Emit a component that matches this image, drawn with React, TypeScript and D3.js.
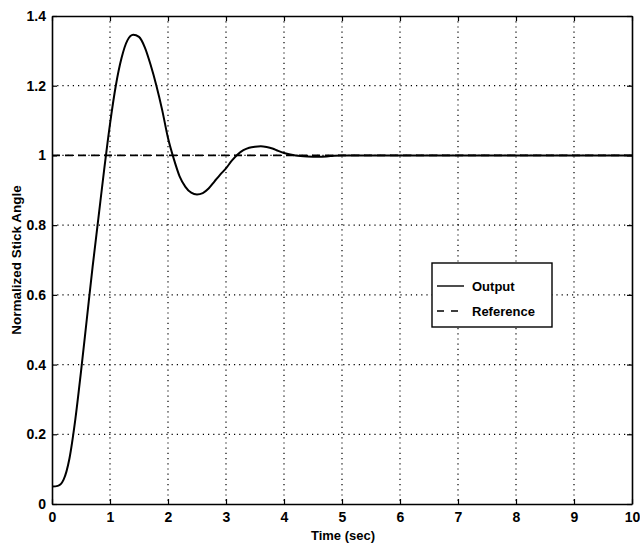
import React, { useEffect, useRef } from 'react';
import * as d3 from 'd3';

// Step response
const times = [0, 0.1, 0.2, 0.3, 0.4, 0.5, 0.6, 0.7, 0.8, 0.9, 1.0, 1.1, 1.2, 1.3, 1.4, 1.5, 1.6, 1.7, 1.8, 1.9, 2.0, 2.1, 2.2, 2.3, 2.4, 2.5, 2.6, 2.7, 2.8, 2.9, 3.0, 3.1, 3.2, 3.3, 3.4, 3.5, 3.6, 3.7, 3.8, 3.9, 4.0, 4.2, 4.4, 4.6, 4.8, 5.0, 6, 7, 8, 9, 10];
const output = [0.05, 0.052, 0.07, 0.13, 0.24, 0.38, 0.53, 0.68, 0.82, 0.96, 1.09, 1.2, 1.28, 1.33, 1.346, 1.34, 1.31, 1.26, 1.2, 1.13, 1.05, 0.99, 0.94, 0.91, 0.893, 0.888, 0.892, 0.905, 0.925, 0.945, 0.963, 0.985, 1.003, 1.015, 1.022, 1.025, 1.026, 1.024, 1.02, 1.013, 1.007, 1.0, 0.997, 0.996, 0.998, 1.0, 1.0, 1.0, 1.0, 1.0, 1.0];
const reference = [0, 10];
const referenceValue = 1;

const xTicks = [0, 1, 2, 3, 4, 5, 6, 7, 8, 9, 10];
const yTicks = [0, 0.2, 0.4, 0.6, 0.8, 1, 1.2, 1.4];
const legendLabels = ['Output', 'Reference'];

const font = 'Liberation Sans, Arial, Helvetica, sans-serif';

export default function App() {
  const svgRef = useRef<SVGSVGElement>(null);

  useEffect(() => {
    const svg = d3.select(svgRef.current);
    svg.selectAll('*').remove();

    const left = 52, right = 632, top = 16, bottom = 504;

    const x = d3.scaleLinear().domain([0, 10]).range([left, right]);
    const y = d3.scaleLinear().domain([0, 1.4]).range([bottom, top]);

    // dotted grid
    const grid = svg.append('g').attr('stroke', '#000').attr('stroke-width', 1.2)
      .attr('stroke-dasharray', '1.2,4');
    grid.selectAll('.vx').data(xTicks.slice(1, -1)).enter().append('line')
      .attr('x1', d => x(d)).attr('x2', d => x(d))
      .attr('y1', top).attr('y2', bottom);
    grid.selectAll('.hy').data(yTicks.slice(1, -1)).enter().append('line')
      .attr('x1', left).attr('x2', right)
      .attr('y1', d => y(d)).attr('y2', d => y(d));

    // axes, ticks pointing inward
    const xAxis = svg.append('g').attr('transform', `translate(0,${bottom})`)
      .call(d3.axisBottom(x).tickValues(xTicks).tickSizeInner(-5).tickSizeOuter(0).tickPadding(8).tickFormat(d3.format('d')));
    const yAxis = svg.append('g').attr('transform', `translate(${left},0)`)
      .call(d3.axisLeft(y).tickValues(yTicks).tickSizeInner(-5).tickSizeOuter(0).tickPadding(6).tickFormat(d => d === 0 ? '0' : d3.format('.1~f')(d as number)));
    svg.append('g').attr('transform', `translate(0,${top})`)
      .call(d3.axisTop(x).tickValues(xTicks).tickSizeInner(-5).tickSizeOuter(0).tickFormat(() => ''));
    svg.append('g').attr('transform', `translate(${right},0)`)
      .call(d3.axisRight(y).tickValues(yTicks).tickSizeInner(-5).tickSizeOuter(0).tickFormat(() => ''));

    svg.selectAll('.domain').attr('stroke', '#000').attr('stroke-width', 1.6);
    svg.selectAll('.tick line').attr('stroke', '#000').attr('stroke-width', 1.2);
    [xAxis, yAxis].forEach(a => a.selectAll('text')
      .attr('font-family', font).attr('font-size', 14).attr('font-weight', 'bold').attr('fill', '#000'));

    // reference line
    svg.append('path')
      .attr('d', d3.line<number>().x(d => x(d)).y(() => y(referenceValue))(reference))
      .attr('fill', 'none').attr('stroke', '#000').attr('stroke-width', 1.8)
      .attr('stroke-dasharray', '8,5');

    // output response
    const pts = times.map((t, i) => [t, output[i]] as [number, number]);
    svg.append('path')
      .attr('d', d3.line<[number, number]>().x(d => x(d[0])).y(d => y(d[1])).curve(d3.curveMonotoneX)(pts))
      .attr('fill', 'none').attr('stroke', '#000').attr('stroke-width', 2);

    // legend
    const lg = svg.append('g');
    lg.append('rect').attr('x', 432).attr('y', 263).attr('width', 120).attr('height', 64)
      .attr('fill', '#fff').attr('stroke', '#000').attr('stroke-width', 1.4);
    legendLabels.forEach((label, i) => {
      const ly = 286 + i * 25;
      lg.append('line').attr('x1', 437).attr('x2', 464).attr('y1', ly).attr('y2', ly)
        .attr('stroke', '#000').attr('stroke-width', 1.4)
        .attr('stroke-dasharray', i === 1 ? '7,7' : null);
      lg.append('text').attr('x', 472).attr('y', ly + 5).text(label)
        .attr('font-family', font).attr('font-size', 13).attr('font-weight', 'bold');
    });

    // axis labels
    svg.append('text').attr('x', 343).attr('y', 540).attr('text-anchor', 'middle')
      .attr('font-family', font).attr('font-size', 13).attr('font-weight', 'bold').text('Time (sec)');
    svg.append('text').attr('transform', `translate(21,${(top + bottom) / 2}) rotate(-90)`)
      .attr('text-anchor', 'middle')
      .attr('font-family', font).attr('font-size', 13.5).attr('font-weight', 'bold').text('Normalized Stick Angle');
  }, []);

  return (
    <svg ref={svgRef} width={640} height={544}
      style={{ position: 'absolute', left: 0, top: 0, background: '#fff' }} />
  );
}
